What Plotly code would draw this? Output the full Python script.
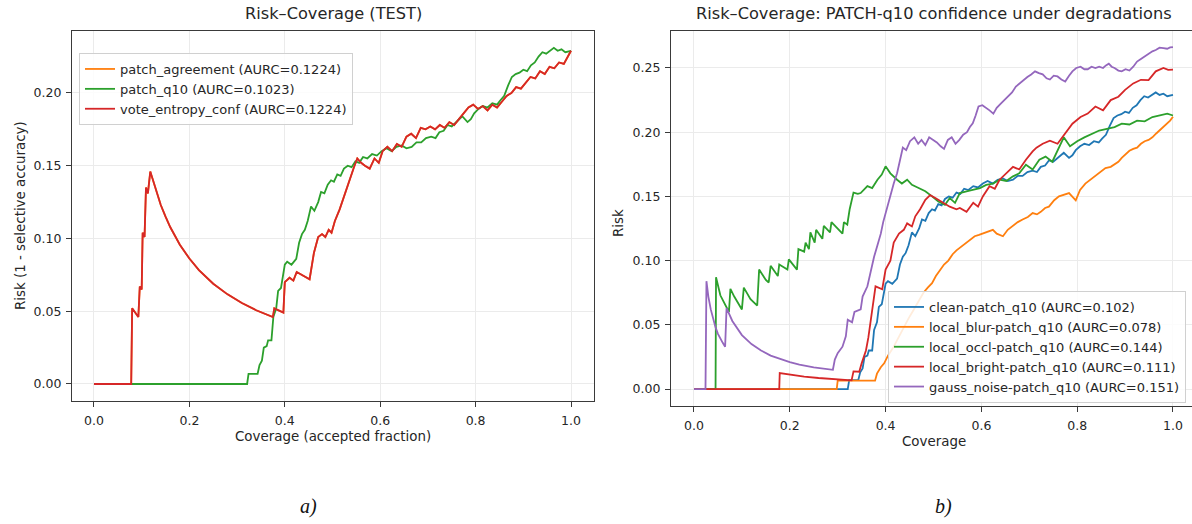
import plotly.graph_objects as go

W, H = 1192, 524

# ---------------- data ----------------
# Left panel: Risk-Coverage (TEST)
vote_entropy_conf = [
    (0.0, 0.0), (0.078, 0.0), (0.080, 0.052), (0.093, 0.046), (0.096, 0.067), (0.100, 0.065),
    (0.102, 0.104), (0.106, 0.101), (0.109, 0.135), (0.113, 0.131), (0.118, 0.146),
    (0.13, 0.1325), (0.14, 0.123), (0.15, 0.115), (0.16, 0.1077), (0.18, 0.0957), (0.20, 0.0862),
    (0.22, 0.0783), (0.25, 0.0689), (0.28, 0.0616), (0.31, 0.0556), (0.34, 0.0507), (0.375, 0.046),
    (0.378, 0.052), (0.397, 0.049), (0.400, 0.070), (0.410, 0.073), (0.418, 0.071), (0.425, 0.077),
    (0.452, 0.072), (0.461, 0.090), (0.470, 0.101), (0.478, 0.103), (0.485, 0.101), (0.492, 0.106),
    (0.498, 0.104), (0.505, 0.112), (0.515, 0.120), (0.525, 0.130), (0.535, 0.140), (0.545, 0.149),
    (0.552, 0.155), (0.560, 0.152), (0.568, 0.150), (0.578, 0.148), (0.588, 0.155), (0.597, 0.152),
    (0.605, 0.160), (0.615, 0.163), (0.625, 0.160), (0.635, 0.165), (0.645, 0.163), (0.655, 0.170),
    (0.665, 0.172), (0.675, 0.169), (0.685, 0.176), (0.695, 0.175), (0.705, 0.177), (0.715, 0.175),
    (0.725, 0.178), (0.735, 0.176), (0.745, 0.180), (0.755, 0.178), (0.765, 0.182), (0.775, 0.186),
    (0.785, 0.190), (0.795, 0.192), (0.805, 0.189), (0.815, 0.191), (0.825, 0.188), (0.835, 0.192),
    (0.845, 0.190), (0.855, 0.194), (0.865, 0.198), (0.875, 0.200), (0.885, 0.204), (0.895, 0.203),
    (0.905, 0.207), (0.915, 0.211), (0.925, 0.210), (0.935, 0.215), (0.945, 0.213), (0.955, 0.218),
    (0.965, 0.217), (0.975, 0.221), (0.985, 0.220), (0.993, 0.225), (1.0, 0.229),
]
patch_agreement = vote_entropy_conf  # identical curve (hidden under red)

patch_q10 = [
    (0.0, 0.0), (0.321, 0.0), (0.324, 0.007), (0.343, 0.007), (0.347, 0.013), (0.352, 0.016),
    (0.356, 0.025), (0.362, 0.026), (0.365, 0.030), (0.372, 0.030), (0.376, 0.046), (0.382, 0.052),
    (0.386, 0.064), (0.392, 0.066), (0.400, 0.082), (0.405, 0.084), (0.414, 0.082), (0.424, 0.086),
    (0.430, 0.097), (0.436, 0.103), (0.442, 0.106), (0.448, 0.112), (0.455, 0.122), (0.462, 0.119),
    (0.470, 0.125), (0.476, 0.132), (0.483, 0.131), (0.490, 0.137), (0.497, 0.140), (0.503, 0.139),
    (0.510, 0.144), (0.517, 0.143), (0.524, 0.148), (0.532, 0.150), (0.540, 0.149), (0.548, 0.153),
    (0.556, 0.152), (0.564, 0.156), (0.573, 0.155), (0.583, 0.158), (0.593, 0.157), (0.603, 0.160),
    (0.613, 0.162), (0.624, 0.160), (0.634, 0.163), (0.645, 0.164), (0.655, 0.162), (0.666, 0.163),
    (0.676, 0.166), (0.686, 0.166), (0.696, 0.169), (0.707, 0.170), (0.716, 0.169), (0.724, 0.173),
    (0.733, 0.174), (0.741, 0.178), (0.750, 0.177), (0.762, 0.181), (0.772, 0.184), (0.783, 0.180),
    (0.790, 0.182), (0.797, 0.186), (0.806, 0.189), (0.815, 0.191), (0.825, 0.190), (0.835, 0.193),
    (0.845, 0.192), (0.852, 0.195), (0.860, 0.198), (0.868, 0.205), (0.876, 0.211), (0.884, 0.213),
    (0.892, 0.214), (0.900, 0.216), (0.908, 0.215), (0.916, 0.219), (0.924, 0.221), (0.932, 0.225),
    (0.940, 0.228), (0.948, 0.227), (0.956, 0.229), (0.964, 0.231), (0.972, 0.229), (0.980, 0.230),
    (0.988, 0.228), (1.0, 0.229),
]

left_names = ["patch_agreement (AURC=0.1224)", "patch_q10 (AURC=0.1023)",
              "vote_entropy_conf (AURC=0.1224)"]

# Right panel: PATCH-q10 confidence under degradations
clean_patch_q10 = patch_q10  # same model / same curve

local_blur = [
    (0.0, 0.0), (0.298, 0.0), (0.300, 0.0065), (0.378, 0.0065), (0.382, 0.012), (0.390, 0.017),
    (0.397, 0.020), (0.405, 0.026), (0.417, 0.033), (0.428, 0.041), (0.438, 0.049), (0.448, 0.055),
    (0.459, 0.062), (0.469, 0.069), (0.479, 0.075), (0.488, 0.079), (0.497, 0.0825), (0.505, 0.088),
    (0.514, 0.093), (0.522, 0.097), (0.531, 0.100), (0.540, 0.105), (0.548, 0.108), (0.558, 0.111),
    (0.569, 0.1136), (0.578, 0.117), (0.586, 0.119), (0.595, 0.120), (0.603, 0.121), (0.614, 0.123),
    (0.624, 0.124), (0.632, 0.121), (0.645, 0.119), (0.655, 0.124), (0.666, 0.127), (0.676, 0.130),
    (0.686, 0.132), (0.697, 0.134), (0.707, 0.137), (0.716, 0.136), (0.724, 0.138), (0.733, 0.141),
    (0.741, 0.142), (0.752, 0.147), (0.762, 0.150), (0.772, 0.151), (0.783, 0.1526), (0.797, 0.147),
    (0.806, 0.155), (0.817, 0.160), (0.828, 0.163), (0.838, 0.1656), (0.848, 0.169), (0.859, 0.172),
    (0.870, 0.173), (0.878, 0.175), (0.886, 0.177), (0.893, 0.180), (0.901, 0.183), (0.909, 0.1855),
    (0.917, 0.187), (0.925, 0.188), (0.933, 0.191), (0.941, 0.193), (0.949, 0.194), (0.957, 0.196),
    (0.965, 0.199), (0.972, 0.2013), (0.980, 0.204), (0.988, 0.2066), (0.994, 0.209), (1.0, 0.212),
]

local_occl = [
    (0.0, 0.0), (0.045, 0.0), (0.046, 0.087), (0.055, 0.073), (0.073, 0.060), (0.076, 0.078),
    (0.084, 0.072), (0.100, 0.062), (0.104, 0.079), (0.118, 0.070), (0.132, 0.065), (0.136, 0.093),
    (0.150, 0.085), (0.156, 0.083), (0.160, 0.096), (0.175, 0.088), (0.178, 0.097), (0.195, 0.093),
    (0.198, 0.101), (0.215, 0.093), (0.218, 0.109), (0.230, 0.107), (0.233, 0.114), (0.240, 0.109),
    (0.243, 0.122), (0.252, 0.114), (0.255, 0.124), (0.268, 0.117), (0.271, 0.127), (0.284, 0.122),
    (0.287, 0.130), (0.310, 0.121), (0.313, 0.130), (0.320, 0.128), (0.325, 0.140), (0.333, 0.153),
    (0.342, 0.152), (0.348, 0.1526), (0.362, 0.158), (0.372, 0.1565), (0.383, 0.163), (0.392, 0.167),
    (0.400, 0.1734), (0.410, 0.168), (0.424, 0.163), (0.434, 0.160), (0.445, 0.163), (0.455, 0.159),
    (0.469, 0.1565), (0.483, 0.154), (0.497, 0.150), (0.510, 0.146), (0.524, 0.1435), (0.534, 0.1487),
    (0.545, 0.145), (0.555, 0.1526), (0.569, 0.154), (0.583, 0.155), (0.597, 0.1565), (0.610, 0.159),
    (0.624, 0.160), (0.638, 0.163), (0.652, 0.162), (0.666, 0.1656), (0.679, 0.168), (0.693, 0.1747),
    (0.707, 0.171), (0.721, 0.1786), (0.734, 0.181), (0.748, 0.177), (0.762, 0.188), (0.772, 0.196),
    (0.785, 0.189), (0.800, 0.193), (0.815, 0.196), (0.830, 0.1987), (0.846, 0.2013), (0.862, 0.2026),
    (0.878, 0.204), (0.893, 0.2066), (0.909, 0.206), (0.925, 0.209), (0.941, 0.2085), (0.957, 0.2118),
    (0.972, 0.213), (0.988, 0.2145), (1.0, 0.213),
]

local_bright = [
    (0.0, 0.0), (0.178, 0.0), (0.179, 0.0125), (0.20, 0.0112), (0.23, 0.0097), (0.26, 0.0086),
    (0.29, 0.0077), (0.329, 0.0068), (0.333, 0.0138), (0.345, 0.0135), (0.350, 0.020), (0.359, 0.030),
    (0.364, 0.040), (0.369, 0.054), (0.374, 0.066), (0.379, 0.080), (0.393, 0.0777), (0.400, 0.093),
    (0.410, 0.100), (0.417, 0.114), (0.428, 0.121), (0.438, 0.124), (0.445, 0.129), (0.455, 0.1266),
    (0.462, 0.1345), (0.472, 0.140), (0.483, 0.1474), (0.493, 0.151), (0.503, 0.149), (0.521, 0.145),
    (0.534, 0.142), (0.548, 0.140), (0.555, 0.141), (0.569, 0.138), (0.583, 0.145), (0.593, 0.142),
    (0.603, 0.150), (0.617, 0.158), (0.628, 0.156), (0.638, 0.163), (0.652, 0.168), (0.666, 0.173),
    (0.679, 0.171), (0.693, 0.1786), (0.707, 0.185), (0.715, 0.188), (0.728, 0.191), (0.743, 0.1934),
    (0.759, 0.191), (0.775, 0.1987), (0.790, 0.2066), (0.807, 0.2118), (0.822, 0.2145), (0.838, 0.220),
    (0.854, 0.217), (0.870, 0.225), (0.886, 0.2276), (0.900, 0.233), (0.917, 0.238), (0.933, 0.2408),
    (0.949, 0.2405), (0.964, 0.2474), (0.980, 0.250), (0.990, 0.2485), (1.0, 0.2487),
]

gauss_noise = [
    (0.0, 0.0), (0.024, 0.0), (0.026, 0.084), (0.030, 0.072), (0.035, 0.062), (0.040, 0.054),
    (0.045, 0.048), (0.050, 0.043), (0.055, 0.039), (0.060, 0.036), (0.065, 0.033), (0.068, 0.063),
    (0.080, 0.053), (0.10, 0.042), (0.12, 0.035), (0.14, 0.030), (0.16, 0.026), (0.18, 0.0234),
    (0.20, 0.021), (0.22, 0.019), (0.25, 0.0168), (0.29, 0.0150), (0.294, 0.023), (0.300, 0.028),
    (0.310, 0.033), (0.317, 0.041), (0.321, 0.054), (0.330, 0.052), (0.335, 0.060), (0.348, 0.062),
    (0.352, 0.072), (0.362, 0.080), (0.368, 0.090), (0.376, 0.103), (0.383, 0.112), (0.390, 0.121),
    (0.395, 0.130), (0.400, 0.137), (0.410, 0.150), (0.417, 0.160), (0.424, 0.168), (0.430, 0.178),
    (0.436, 0.188), (0.443, 0.186), (0.451, 0.193), (0.460, 0.196), (0.468, 0.191), (0.475, 0.194),
    (0.483, 0.190), (0.491, 0.196), (0.499, 0.194), (0.507, 0.192), (0.515, 0.189), (0.522, 0.187),
    (0.530, 0.194), (0.538, 0.196), (0.546, 0.191), (0.554, 0.194), (0.562, 0.198), (0.570, 0.200),
    (0.576, 0.204), (0.582, 0.207), (0.588, 0.213), (0.594, 0.220), (0.602, 0.221), (0.610, 0.219),
    (0.617, 0.217), (0.625, 0.2145), (0.632, 0.219), (0.640, 0.222), (0.648, 0.225), (0.657, 0.2276),
    (0.664, 0.231), (0.672, 0.2355), (0.680, 0.238), (0.688, 0.2408), (0.696, 0.243), (0.704, 0.245),
    (0.712, 0.2474), (0.720, 0.246), (0.728, 0.245), (0.736, 0.242), (0.743, 0.241), (0.751, 0.244),
    (0.759, 0.2434), (0.767, 0.241), (0.775, 0.2395), (0.783, 0.244), (0.790, 0.2474), (0.798, 0.250),
    (0.807, 0.251), (0.815, 0.249), (0.822, 0.249), (0.830, 0.251), (0.838, 0.250), (0.846, 0.251),
    (0.854, 0.250), (0.860, 0.252), (0.866, 0.2534), (0.872, 0.251), (0.878, 0.250), (0.886, 0.248),
    (0.893, 0.2474), (0.901, 0.249), (0.909, 0.248), (0.917, 0.251), (0.925, 0.255), (0.933, 0.257),
    (0.941, 0.259), (0.949, 0.261), (0.957, 0.263), (0.964, 0.264), (0.972, 0.2658), (0.980, 0.2655),
    (0.988, 0.265), (0.994, 0.266), (1.0, 0.2663),
]

right_names = ["clean-patch_q10 (AURC=0.102)", "local_blur-patch_q10 (AURC=0.078)",
               "local_occl-patch_q10 (AURC=0.144)", "local_bright-patch_q10 (AURC=0.111)",
               "gauss_noise-patch_q10 (AURC=0.151)"]

x_ticks = [0.0, 0.2, 0.4, 0.6, 0.8, 1.0]
left_y_ticks = [0.00, 0.05, 0.10, 0.15, 0.20]
right_y_ticks = [0.00, 0.05, 0.10, 0.15, 0.20, 0.25]

# ---------------- styling ----------------
C_BLUE, C_ORANGE, C_GREEN, C_RED, C_PURPLE = "#1f77b4", "#ff7f0e", "#2ca02c", "#d62728", "#9467bd"
FONT = "DejaVu Sans"
TXT = "#262626"
LW = 1.8


def px2x(px):
    return px / W


def py2y(py):
    return 1 - py / H


def xy(data):
    return [p[0] for p in data], [p[1] for p in data]


fig = go.Figure()


def add(data, name, color, xa, ya, legend):
    x, y = xy(data)
    fig.add_trace(go.Scatter(x=x, y=y, mode="lines", name=name,
                             line=dict(color=color, width=LW),
                             xaxis=xa, yaxis=ya, legend=legend))


add(patch_agreement, left_names[0], C_ORANGE, "x", "y", "legend")
add(patch_q10, left_names[1], C_GREEN, "x", "y", "legend")
add(vote_entropy_conf, left_names[2], C_RED, "x", "y", "legend")

add(clean_patch_q10, right_names[0], C_BLUE, "x2", "y2", "legend2")
add(local_blur, right_names[1], C_ORANGE, "x2", "y2", "legend2")
add(local_occl, right_names[2], C_GREEN, "x2", "y2", "legend2")
add(local_bright, right_names[3], C_RED, "x2", "y2", "legend2")
add(gauss_noise, right_names[4], C_PURPLE, "x2", "y2", "legend2")

axis_common = dict(showline=True, linecolor="#3a3a3a", linewidth=1.1, ticks="outside",
                   ticklen=5, tickwidth=1.1, tickcolor="#3a3a3a", showgrid=True,
                   gridcolor="#ebebeb", gridwidth=1, zeroline=False, automargin=False,
                   tickfont=dict(family=FONT, size=12.5, color=TXT))

fig.update_layout(
    template="none",
    width=W, height=H, margin=dict(l=0, r=0, t=0, b=0, pad=0, autoexpand=False),
    paper_bgcolor="white", plot_bgcolor="white",
    font=dict(family=FONT, color=TXT),
    xaxis=dict(domain=[px2x(72), px2x(594)], range=[-0.0461, 1.0482], anchor="y",
               tickvals=x_ticks, tickformat=".1f", mirror=True, ticklabelstandoff=3,
               **axis_common),
    yaxis=dict(domain=[py2y(401), py2y(31)], range=[-0.0117, 0.2426], anchor="x",
               tickvals=left_y_ticks, tickformat=".2f", mirror=True, ticklabelstandoff=2,
               **axis_common),
    xaxis2=dict(domain=[px2x(671), 1.0], range=[-0.048, 1.0397], anchor="y2",
                tickvals=x_ticks, tickformat=".1f", mirror=True, ticklabelstandoff=3,
                **axis_common),
    yaxis2=dict(domain=[py2y(406), py2y(31)], range=[-0.0132, 0.2788], anchor="x2",
                tickvals=right_y_ticks, tickformat=".2f", mirror=False, ticklabelstandoff=2,
                **axis_common),
    legend=dict(x=px2x(79), y=py2y(53), xanchor="left", yanchor="top",
                bgcolor="rgba(255,255,255,0.85)", bordercolor="#d0d0d0", borderwidth=1,
                font=dict(family=FONT, size=13, color=TXT)),
    legend2=dict(x=px2x(888), y=py2y(291), xanchor="left", yanchor="top",
                 bgcolor="rgba(255,255,255,0.85)", bordercolor="#d0d0d0", borderwidth=1,
                 font=dict(family=FONT, size=13, color=TXT)),
    showlegend=True,
)

ann = [
    dict(text="Risk–Coverage (TEST)", x=px2x(333), y=py2y(14), size=16.2),
    dict(text="Risk–Coverage: PATCH-q10 confidence under degradations", x=px2x(934), y=py2y(14), size=16.2),
    dict(text="Coverage (accepted fraction)", x=px2x(333), y=py2y(436), size=13.4),
    dict(text="Coverage", x=px2x(934), y=py2y(441), size=13.4),
]
for a in ann:
    fig.add_annotation(text=a["text"], x=a["x"], y=a["y"], xref="paper", yref="paper",
                       xanchor="center", yanchor="middle", showarrow=False,
                       font=dict(family=FONT, size=a["size"], color=TXT))

fig.add_annotation(text="Risk (1 - selective accuracy)", x=px2x(20), y=py2y(216),
                   xref="paper", yref="paper", textangle=-90, showarrow=False,
                   xanchor="center", yanchor="middle",
                   font=dict(family=FONT, size=13.4, color=TXT))
fig.add_annotation(text="Risk", x=px2x(619), y=py2y(223),
                   xref="paper", yref="paper", textangle=-90, showarrow=False,
                   xanchor="center", yanchor="middle",
                   font=dict(family=FONT, size=13.4, color=TXT))

for txt, cx in (("a)", 308), ("b)", 943)):
    fig.add_annotation(text="<i>" + txt + "</i>", x=px2x(cx), y=py2y(506),
                       xref="paper", yref="paper", showarrow=False,
                       xanchor="center", yanchor="middle",
                       font=dict(family="Liberation Serif", size=20, color="#111"))

fig.write_html(
    "out.html",
    config={"displayModeBar": False},
    post_script="document.body.style.margin='0';document.body.style.padding='0';"
                "document.body.style.overflow='hidden';",
)
